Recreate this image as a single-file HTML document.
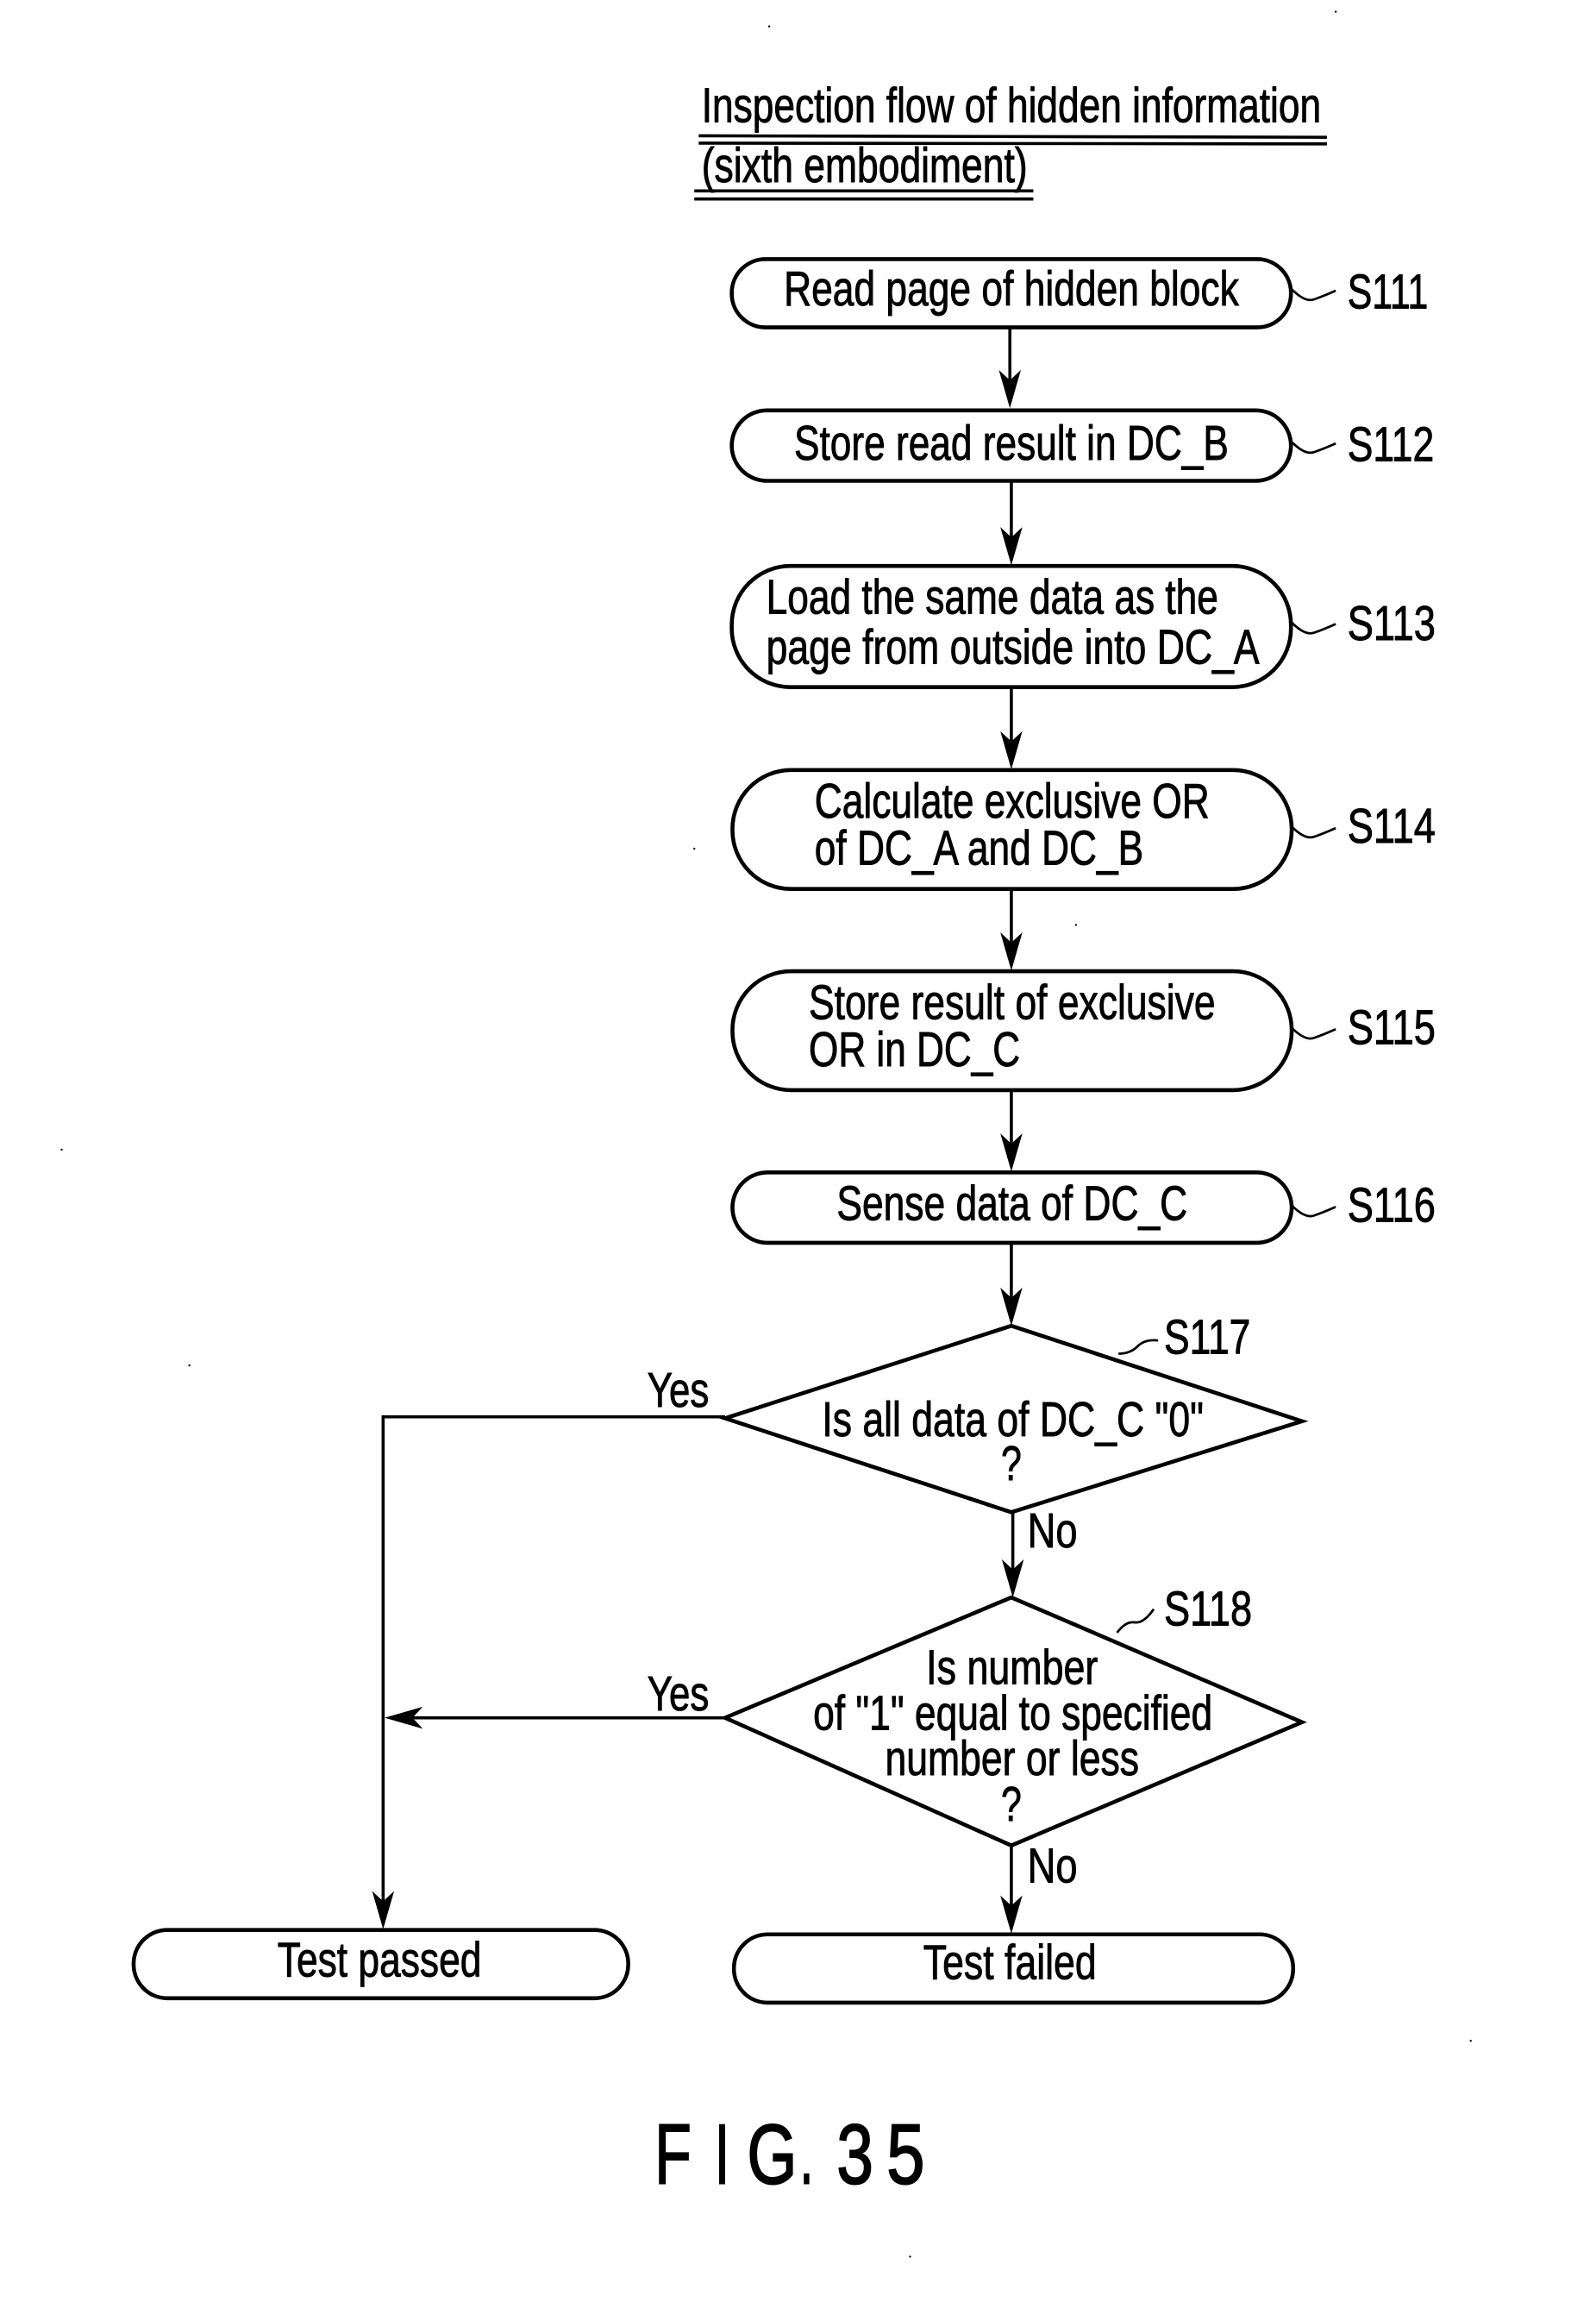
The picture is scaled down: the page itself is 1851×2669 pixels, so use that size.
<!DOCTYPE html>
<html><head><meta charset="utf-8"><style>
html,body{margin:0;padding:0;background:#fff}
svg{display:block}
text{font-family:"Liberation Sans",sans-serif;font-size:33px;fill:#000;stroke:#000;stroke-width:.55px}
.b{fill:none;stroke:#000;stroke-width:2.7}
.l{fill:none;stroke:#000;stroke-width:2.1}
.s{fill:none;stroke:#000;stroke-width:1.6}
.h{fill:#000}
.f{font-size:58px;stroke-width:1.2px}
</style></head><body>
<svg width="1851" height="2669" viewBox="0 0 1087.3 1567.9" xmlns="http://www.w3.org/2000/svg">
<rect width="1087.3" height="1567.9" fill="#fff"/>
<text x="478" y="83" textLength="422" lengthAdjust="spacingAndGlyphs">Inspection flow of hidden information</text>
<path class="l" d="M476 92.5L904 93.5M476 97.5L904 98"/>
<text x="478" y="124" textLength="222" lengthAdjust="spacingAndGlyphs">(sixth embodiment)</text>
<path class="l" d="M473 130H704M473 135.5H704"/>

<rect class="b" x="498.500" y="176.500" width="381" height="46.500" rx="23"/>
<rect class="b" x="498.500" y="279.500" width="381" height="48" rx="24"/>
<rect class="b" x="498.500" y="385.500" width="381" height="82.500" rx="40"/>
<rect class="b" x="499" y="524.500" width="381" height="81" rx="40"/>
<rect class="b" x="499" y="661.500" width="381" height="81" rx="40"/>
<rect class="b" x="499" y="798.500" width="381" height="48" rx="24"/>
<rect class="b" x="91" y="1314.500" width="337" height="46.500" rx="23"/>
<rect class="b" x="500" y="1317.500" width="381" height="46.500" rx="23"/>
<path class="b" d="M689 903L887 968L689 1030L494 966Z"/>
<path class="b" d="M689 1088L887 1173L689 1257L494 1170Z"/>

<path class="l" d="M688 223V262M689 328V368M689 468V507M689 606V644M689 743V781M689 847V886M690 1030V1072M689 1257V1300M494 965H261V1298M494 1170H270"/>
<path class="h" d="M688 278L680.500 252L688 259L695.500 252Z"/>
<path class="h" d="M689 385L681.500 359L689 366L696.500 359Z"/>
<path class="h" d="M689 524L681.500 498L689 505L696.500 498Z"/>
<path class="h" d="M689 661L681.500 635L689 642L696.500 635Z"/>
<path class="h" d="M689 798L681.500 772L689 779L696.500 772Z"/>
<path class="h" d="M689 903L681.500 877L689 884L696.500 877Z"/>
<path class="h" d="M690 1088L682.500 1062L690 1069L697.500 1062Z"/>
<path class="h" d="M689 1317L681.500 1291L689 1298L696.500 1291Z"/>
<path class="h" d="M261 1314L253.500 1288L261 1295L268.500 1288Z"/>
<path class="h" d="M262 1170L288 1162.500L281 1170L288 1177.500Z"/>

<path class="s" d="M880 197q9 9 15 7t15-6"/>
<path class="s" d="M880 301q9 9 15 7t15-6"/>
<path class="s" d="M880 424q9 9 15 7t15-6"/>
<path class="s" d="M880 563q9 9 15 7t15-6"/>
<path class="s" d="M880 700q9 9 15 7t15-6"/>
<path class="s" d="M880 821q9 9 15 7t15-6"/>
<path class="s" d="M762 922q8 0 13-5t14-4"/>
<path class="s" d="M761 1112q6-8 12-7t13-9"/>

<text x="534" y="208" textLength="310" lengthAdjust="spacingAndGlyphs">Read page of hidden block</text>
<text x="541" y="313" textLength="296" lengthAdjust="spacingAndGlyphs">Store read result in DC_B</text>
<text x="522" y="418" textLength="308" lengthAdjust="spacingAndGlyphs">Load the same data as the</text>
<text x="522" y="452" textLength="336" lengthAdjust="spacingAndGlyphs">page from outside into DC_A</text>
<text x="555" y="557" textLength="269" lengthAdjust="spacingAndGlyphs">Calculate exclusive OR</text>
<text x="555" y="589" textLength="224" lengthAdjust="spacingAndGlyphs">of DC_A and DC_B</text>
<text x="551" y="694" textLength="277" lengthAdjust="spacingAndGlyphs">Store result of exclusive</text>
<text x="551" y="726" textLength="144" lengthAdjust="spacingAndGlyphs">OR in DC_C</text>
<text x="570" y="831" textLength="239" lengthAdjust="spacingAndGlyphs">Sense data of DC_C</text>

<text x="918" y="210" textLength="55" lengthAdjust="spacingAndGlyphs">S111</text>
<text x="918" y="314" textLength="59" lengthAdjust="spacingAndGlyphs">S112</text>
<text x="918" y="436" textLength="60" lengthAdjust="spacingAndGlyphs">S113</text>
<text x="918" y="574" textLength="60" lengthAdjust="spacingAndGlyphs">S114</text>
<text x="918" y="711" textLength="60" lengthAdjust="spacingAndGlyphs">S115</text>
<text x="918" y="832" textLength="60" lengthAdjust="spacingAndGlyphs">S116</text>
<text x="793" y="922" textLength="59" lengthAdjust="spacingAndGlyphs">S117</text>
<text x="793" y="1107" textLength="60" lengthAdjust="spacingAndGlyphs">S118</text>

<text x="441" y="958" textLength="42" lengthAdjust="spacingAndGlyphs">Yes</text>
<text x="441" y="1165" textLength="42" lengthAdjust="spacingAndGlyphs">Yes</text>
<text x="700" y="1054" textLength="34" lengthAdjust="spacingAndGlyphs">No</text>
<text x="700" y="1282" textLength="34" lengthAdjust="spacingAndGlyphs">No</text>

<text x="560" y="978" textLength="260" lengthAdjust="spacingAndGlyphs">Is all data of DC_C "0"</text>
<text x="682" y="1008" textLength="14" lengthAdjust="spacingAndGlyphs">?</text>
<text x="631" y="1147" textLength="117" lengthAdjust="spacingAndGlyphs">Is number</text>
<text x="554" y="1178" textLength="272" lengthAdjust="spacingAndGlyphs">of "1" equal to specified</text>
<text x="603" y="1209" textLength="173" lengthAdjust="spacingAndGlyphs">number or less</text>
<text x="682" y="1240" textLength="14" lengthAdjust="spacingAndGlyphs">?</text>

<text x="189" y="1346" textLength="139" lengthAdjust="spacingAndGlyphs">Test passed</text>
<text x="629" y="1348" textLength="118" lengthAdjust="spacingAndGlyphs">Test failed</text>

<text class="f" x="446" y="1487" textLength="25" lengthAdjust="spacingAndGlyphs">F</text>
<text class="f" x="487" y="1487" textLength="10" lengthAdjust="spacingAndGlyphs">I</text>
<text class="f" x="509" y="1487" textLength="34" lengthAdjust="spacingAndGlyphs">G</text>
<text class="f" x="545" y="1487" textLength="9" lengthAdjust="spacingAndGlyphs">.</text>
<text class="f" x="570" y="1487" textLength="25" lengthAdjust="spacingAndGlyphs">3</text>
<text class="f" x="604" y="1487" textLength="26" lengthAdjust="spacingAndGlyphs">5</text>

<g class="h">
<circle cx="524" cy="18" r=".7"/><circle cx="910" cy="8" r=".7"/><circle cx="473" cy="578" r=".7"/>
<circle cx="733" cy="630" r=".7"/><circle cx="42" cy="783" r=".7"/><circle cx="129" cy="930" r=".7"/>
<circle cx="1002" cy="1390" r=".7"/><circle cx="620" cy="1537" r=".7"/>
</g>
</svg>
</body></html>
